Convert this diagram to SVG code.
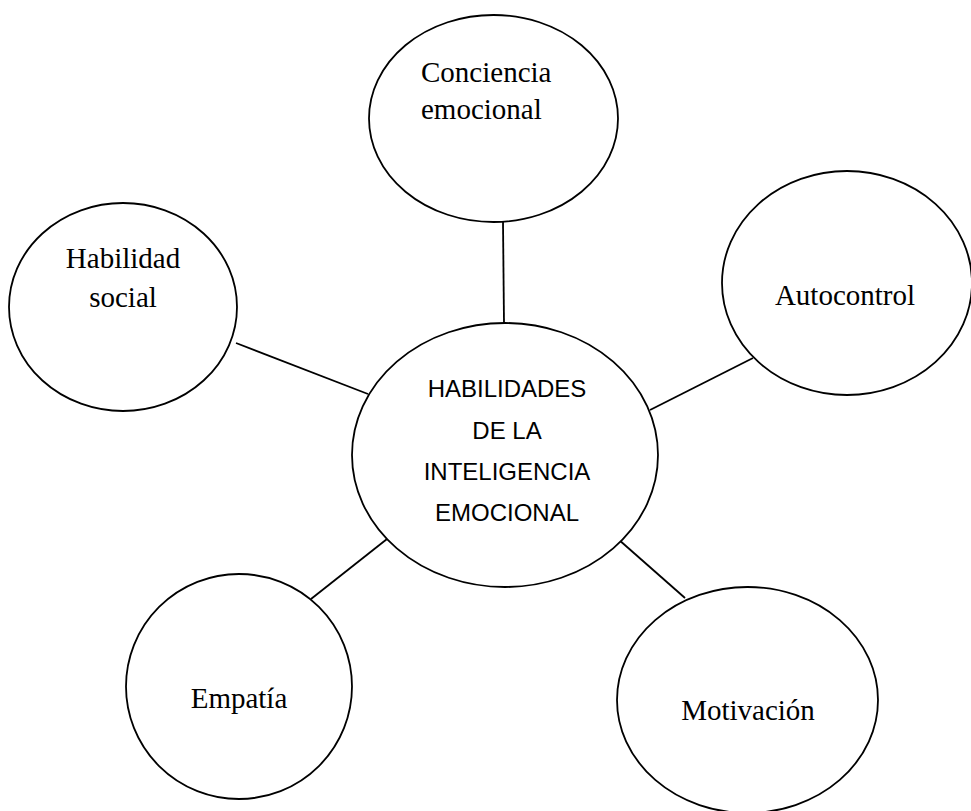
<svg xmlns="http://www.w3.org/2000/svg" width="971" height="811" viewBox="0 0 971 811">
<style>
.n{fill:#fff;stroke:#000;stroke-width:1.8}
.c{stroke:#000;stroke-width:1.8;fill:none}
.s{font-family:"Liberation Serif","Times New Roman",serif;font-size:29px;fill:#000}
.m{font-family:"Liberation Sans",Arial,sans-serif;font-size:24px;fill:#000;text-anchor:middle}
</style>
<rect width="971" height="811" fill="#fff"/>
<g id="connectors">
<line class="c" x1="503" y1="222" x2="504" y2="323"/>
<line class="c" x1="236" y1="343" x2="368" y2="394"/>
<line class="c" x1="650" y1="410" x2="753" y2="358"/>
<line class="c" x1="387" y1="539" x2="311" y2="599"/>
<line class="c" x1="618" y1="539" x2="685" y2="598"/>
</g>
<g id="center">
<ellipse class="n" cx="505" cy="455" rx="153" ry="132"/>
<text class="m" x="507" y="397">HABILIDADES</text>
<text class="m" x="507" y="438.5">DE LA</text>
<text class="m" x="507" y="480">INTELIGENCIA</text>
<text class="m" x="507" y="521">EMOCIONAL</text>
</g>
<g id="conciencia">
<ellipse class="n" cx="493.5" cy="118.5" rx="124.5" ry="103.5"/>
<text class="s" x="421" y="82">Conciencia</text>
<text class="s" x="421" y="119">emocional</text>
</g>
<g id="habilidad">
<ellipse class="n" cx="123" cy="307" rx="114" ry="104"/>
<text class="s" x="123" y="268" text-anchor="middle">Habilidad</text>
<text class="s" x="123" y="307" text-anchor="middle">social</text>
</g>
<g id="autocontrol">
<ellipse class="n" cx="847" cy="283" rx="125" ry="112"/>
<text class="s" x="845" y="305" text-anchor="middle">Autocontrol</text>
</g>
<g id="empatia">
<ellipse class="n" cx="239" cy="686.5" rx="113" ry="112.5"/>
<text class="s" x="239" y="708" text-anchor="middle">Empatía</text>
</g>
<g id="motivacion">
<ellipse class="n" cx="747.5" cy="700" rx="130.5" ry="113"/>
<text class="s" x="748" y="720" text-anchor="middle">Motivación</text>
</g>
</svg>
